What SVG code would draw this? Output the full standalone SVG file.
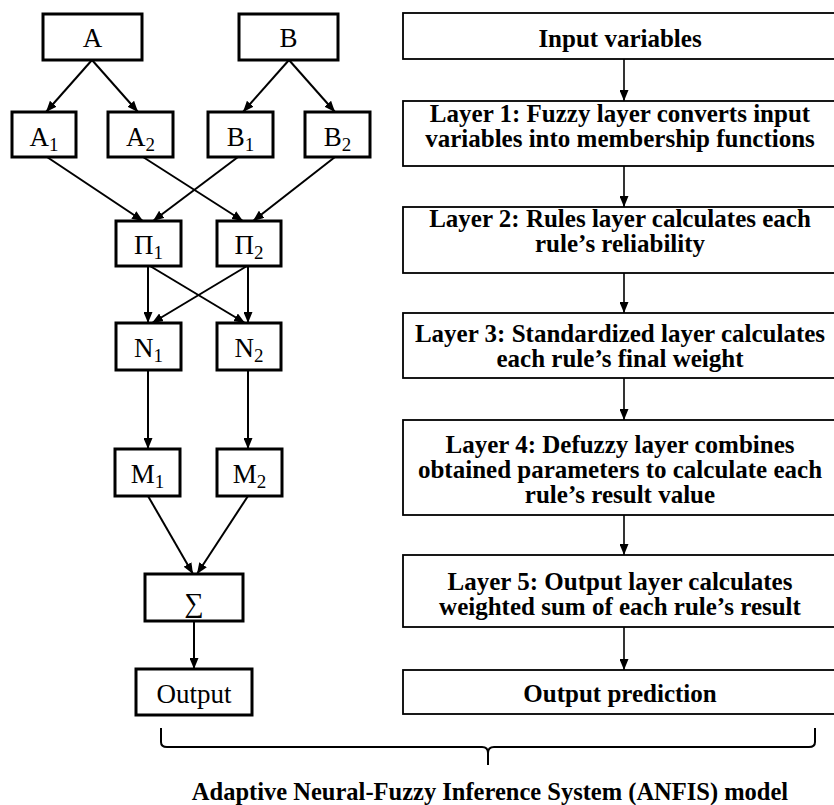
<svg xmlns="http://www.w3.org/2000/svg" width="834" height="805" viewBox="0 0 834 805">
<style>
.ln{fill:#fff;stroke:#000;stroke-width:3}
.rn{fill:#fff;stroke:#000;stroke-width:1.8}
.lt{font-family:"Liberation Serif","Times New Roman",serif;font-size:27px;text-anchor:middle;fill:#000}
.rt{font-family:"Liberation Serif","Times New Roman",serif;font-size:25px;font-weight:bold;text-anchor:middle;fill:#000}
.sub{font-size:19px}
.c{stroke:#000;stroke-width:2;fill:none;marker-end:url(#ah)}
.cr{stroke:#000;stroke-width:1.6;fill:none;marker-end:url(#ah)}
</style>
<defs>
<marker id="ah" markerUnits="userSpaceOnUse" markerWidth="11" markerHeight="9" refX="11" refY="4.5" orient="auto">
<path d="M0,0 L11,4.5 L0,9 z" fill="#000"/>
</marker>
</defs>
<rect width="834" height="805" fill="#fff"/>
<g id="connectors">
<line class="c" x1="92" y1="60" x2="46" y2="112"/>
<line class="c" x1="92" y1="60" x2="138" y2="112"/>
<line class="c" x1="289" y1="60" x2="243" y2="112"/>
<line class="c" x1="289" y1="60" x2="335" y2="112"/>
<line class="c" x1="47" y1="157" x2="143" y2="221"/>
<line class="c" x1="238" y1="157" x2="153" y2="221"/>
<line class="c" x1="143" y1="157" x2="243" y2="221"/>
<line class="c" x1="335" y1="157" x2="253" y2="221"/>
<line class="c" x1="148" y1="266" x2="148" y2="323"/>
<line class="c" x1="150" y1="266" x2="245" y2="323"/>
<line class="c" x1="247" y1="266" x2="152" y2="323"/>
<line class="c" x1="248" y1="266" x2="248" y2="323"/>
<line class="c" x1="148" y1="370" x2="148" y2="449"/>
<line class="c" x1="248" y1="370" x2="248" y2="449"/>
<line class="c" x1="148" y1="496" x2="193" y2="574"/>
<line class="c" x1="248" y1="496" x2="197" y2="574"/>
<line class="c" x1="194" y1="621" x2="194" y2="669"/>
<line class="cr" x1="624" y1="59" x2="624" y2="101"/>
<line class="cr" x1="624" y1="166" x2="624" y2="207"/>
<line class="cr" x1="624" y1="273" x2="624" y2="313"/>
<line class="cr" x1="624" y1="378" x2="624" y2="420"/>
<line class="cr" x1="624" y1="515" x2="624" y2="555"/>
<line class="cr" x1="624" y1="627" x2="624" y2="670"/>
</g>
<g id="node-A"><rect class="ln" x="43" y="14" width="99" height="46"/><text class="lt" x="92.5" y="47">A</text></g>
<g id="node-B"><rect class="ln" x="239" y="14" width="99" height="46"/><text class="lt" x="288.5" y="47">B</text></g>
<g id="node-A1"><rect class="ln" x="12" y="112" width="64" height="45"/><text class="lt" x="44" y="146">A<tspan class="sub" dy="5">1</tspan></text></g>
<g id="node-A2"><rect class="ln" x="108" y="112" width="65" height="45"/><text class="lt" x="140.5" y="146">A<tspan class="sub" dy="5">2</tspan></text></g>
<g id="node-B1"><rect class="ln" x="208" y="112" width="65" height="45"/><text class="lt" x="240.5" y="146">B<tspan class="sub" dy="5">1</tspan></text></g>
<g id="node-B2"><rect class="ln" x="305" y="112" width="65" height="45"/><text class="lt" x="337.5" y="146">B<tspan class="sub" dy="5">2</tspan></text></g>
<g id="node-P1"><rect class="ln" x="116" y="221" width="65" height="45"/><text class="lt" x="148.5" y="254">Π<tspan class="sub" dy="5">1</tspan></text></g>
<g id="node-P2"><rect class="ln" x="217" y="221" width="64" height="45"/><text class="lt" x="249" y="254">Π<tspan class="sub" dy="5">2</tspan></text></g>
<g id="node-N1"><rect class="ln" x="116" y="323" width="65" height="47"/><text class="lt" x="148.5" y="357">N<tspan class="sub" dy="5">1</tspan></text></g>
<g id="node-N2"><rect class="ln" x="217" y="323" width="64" height="47"/><text class="lt" x="249" y="357">N<tspan class="sub" dy="5">2</tspan></text></g>
<g id="node-M1"><rect class="ln" x="115" y="449" width="65" height="47"/><text class="lt" x="147.5" y="483">M<tspan class="sub" dy="5">1</tspan></text></g>
<g id="node-M2"><rect class="ln" x="217" y="449" width="65" height="47"/><text class="lt" x="249.5" y="483">M<tspan class="sub" dy="5">2</tspan></text></g>
<g id="node-Sum"><rect class="ln" x="145" y="574" width="98" height="47"/><text class="lt" x="194" y="612">∑</text></g>
<g id="node-Output"><rect class="ln" x="136" y="669" width="116" height="46"/><text class="lt" x="194" y="703">Output</text></g>
<g id="node-input-variables"><rect class="rn" x="403" y="13" width="440" height="46"/><text class="rt" x="620" y="47">Input variables</text></g>
<g id="node-layer1"><rect class="rn" x="403" y="101" width="440" height="65"/><text class="rt" x="620" y="122">Layer 1: Fuzzy layer converts input</text><text class="rt" x="620" y="147">variables into membership functions</text></g>
<g id="node-layer2"><rect class="rn" x="403" y="207" width="440" height="66"/><text class="rt" x="620" y="227">Layer 2: Rules layer calculates each</text><text class="rt" x="620" y="252">rule’s reliability</text></g>
<g id="node-layer3"><rect class="rn" x="403" y="313" width="440" height="65"/><text class="rt" x="620" y="342">Layer 3: Standardized layer calculates</text><text class="rt" x="620" y="367">each rule’s final weight</text></g>
<g id="node-layer4"><rect class="rn" x="403" y="420" width="440" height="95"/><text class="rt" x="620" y="453">Layer 4: Defuzzy layer combines</text><text class="rt" x="620" y="478">obtained parameters to calculate each</text><text class="rt" x="620" y="503">rule’s result value</text></g>
<g id="node-layer5"><rect class="rn" x="403" y="555" width="440" height="72"/><text class="rt" x="620" y="590">Layer 5: Output layer calculates</text><text class="rt" x="620" y="615">weighted sum of each rule’s result</text></g>
<g id="node-output-prediction"><rect class="rn" x="403" y="670" width="440" height="44"/><text class="rt" x="620" y="702">Output prediction</text></g>
<g id="brace"><path d="M161,728 L161,742 Q161,747 167,747 L482,747 Q488,747 488,753 L488,765 M488,753 Q488,747 494,747 L809,747 Q815,747 815,742 L815,728" fill="none" stroke="#000" stroke-width="2"/></g>
<text class="rt" x="490" y="800" style="font-size:24.5px">Adaptive Neural-Fuzzy Inference System (ANFIS) model</text>
</svg>
